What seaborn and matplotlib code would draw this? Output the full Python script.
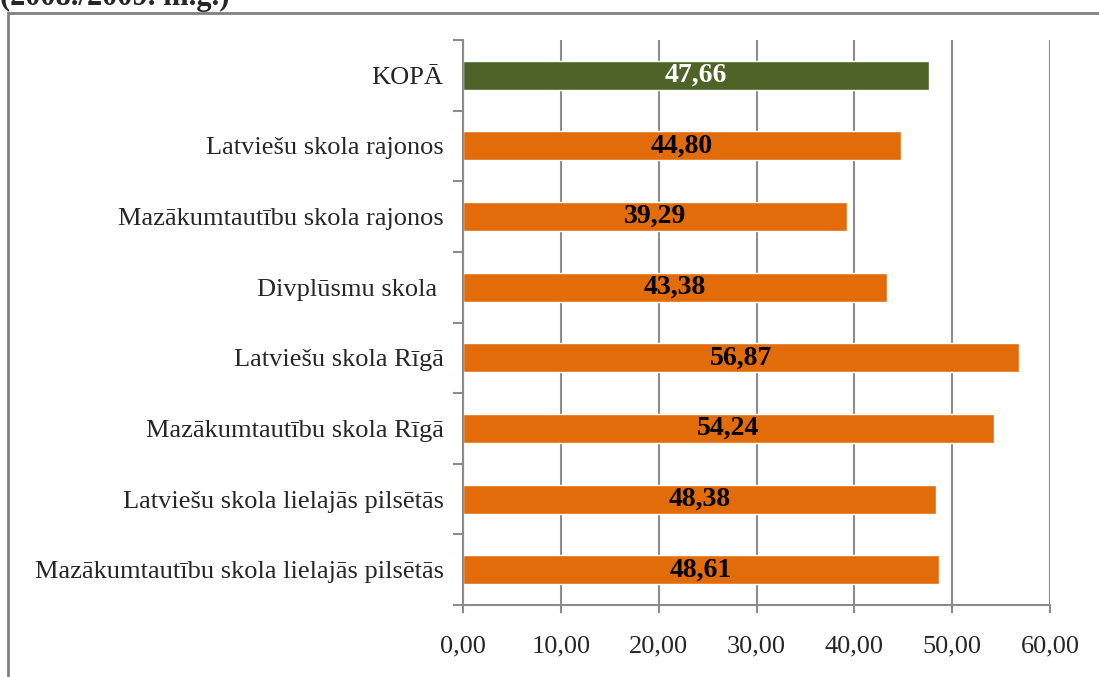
import matplotlib
matplotlib.use("Agg")
import matplotlib.pyplot as plt
from matplotlib.patches import Rectangle
from matplotlib.ticker import FixedLocator, FuncFormatter
import seaborn as sns
import pandas as pd

categories = [
    "KOPĀ",
    "Latviešu skola rajonos",
    "Mazākumtautību skola rajonos",
    "Divplūsmu skola ",
    "Latviešu skola Rīgā",
    "Mazākumtautību skola Rīgā",
    "Latviešu skola lielajās pilsētās",
    "Mazākumtautību skola lielajās pilsētās",
]
values = [47.66, 44.80, 39.29, 43.38, 56.87, 54.24, 48.38, 48.61]
groups = ["total", "school", "school", "school", "school", "school", "school", "school"]
x_ticks = [0, 10, 20, 30, 40, 50, 60]
title = "(2008./2009. m.g.)"

sns.set_theme(style="white")
plt.rcParams["font.family"] = ["Liberation Serif", "DejaVu Serif"]

df = pd.DataFrame({"category": categories, "value": values, "group": groups})
palette = {"total": "#4F6228", "school": "#E36C0A"}

fig = plt.figure(figsize=(10.99, 6.77), dpi=100)
ax = fig.add_axes([463 / 1099, 1 - 605 / 677, (1050 - 463) / 1099, (605 - 40) / 677])

sns.barplot(data=df, x="value", y="category", hue="group", palette=palette,
            orient="h", width=0.41, dodge=False, legend=False, ax=ax,
            saturation=1)

ax.set_xlim(0, 60)
ax.set_ylim(len(categories) - 0.5, -0.5)
ax.set_xlabel("")
ax.set_ylabel("")

grid_c = "#8C8C8C"
ax.xaxis.set_major_locator(FixedLocator(x_ticks))
ax.xaxis.set_major_formatter(FuncFormatter(lambda v, p: f"{v:.2f}".replace(".", ",")))
ax.grid(axis="x", color=grid_c, linewidth=1.5)
ax.set_axisbelow(True)
ax.tick_params(axis="x", which="major", direction="out", length=6, width=1.5,
               color=grid_c, labelsize=19, pad=16, bottom=True)
ax.yaxis.set_minor_locator(FixedLocator([i - 0.5 for i in range(len(categories) + 1)]))
ax.tick_params(axis="y", which="major", length=0, labelsize=19, pad=14)
ax.tick_params(axis="y", which="minor", direction="out", length=7, width=1.5,
               color=grid_c, left=True)

for side in ["top", "right"]:
    ax.spines[side].set_visible(False)
for side in ["left", "bottom"]:
    ax.spines[side].set_color(grid_c)
    ax.spines[side].set_linewidth(1.5)

for i, v in enumerate(values):
    color = "white" if groups[i] == "total" else "black"
    ax.text(v / 2, i, f"{v:.2f}".replace(".", ","), ha="center", va="center",
            fontsize=20, fontweight="bold", color=color)

# chart frame
fig.patches.append(Rectangle((8 / 1099, -0.1), 1.2, 1 - 13 / 677 + 0.1,
                             transform=fig.transFigure, fill=False,
                             edgecolor="#808080", linewidth=2))
fig.text(0.0, 1 - 5 / 677, title, ha="left", va="baseline",
         fontsize=22, fontweight="bold")

fig.savefig("out.png", dpi=100)
